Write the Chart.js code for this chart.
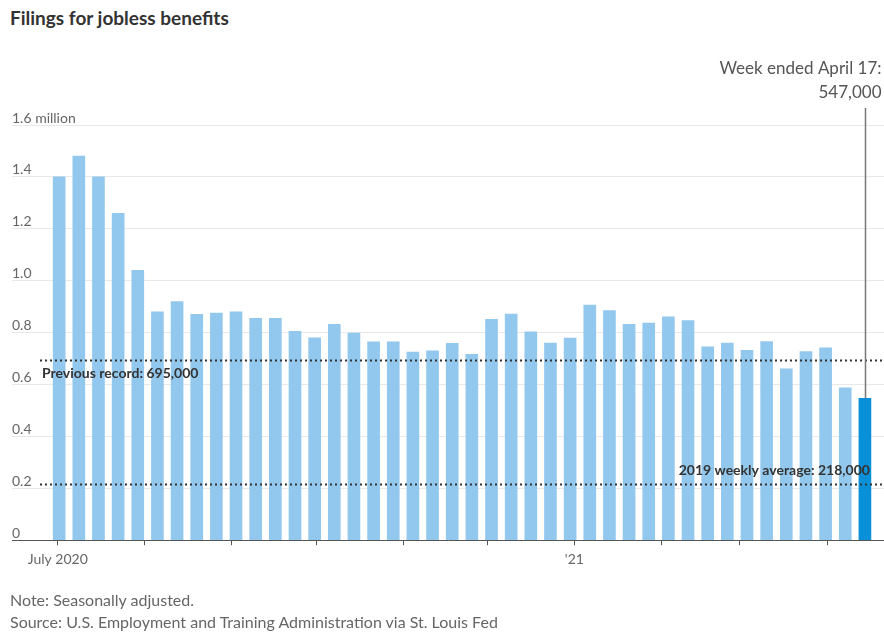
<!DOCTYPE html>
<html>
<head>
<meta charset="utf-8">
<script src="https://cdn.jsdelivr.net/npm/chart.js@4.4.1/dist/chart.umd.min.js"></script>
<style>
  html, body { margin: 0; padding: 0; background: #fff; }
  #wrap { position: relative; width: 884px; height: 632px; overflow: hidden; }
  #chart { position: absolute; left: 0; top: 0; }
  .title { position: absolute; left: 10px; top: 6px; font: bold 19px Lato, sans-serif; color: #333; }
  .note { position: absolute; left: 10px; font: 16px Lato, sans-serif; color: #666; }
</style>
</head>
<body>
<div id="wrap">
  <div class="title">Filings for jobless benefits</div>
  <canvas id="chart" width="884" height="632"></canvas>
  <div class="note" style="top:590px">Note: Seasonally adjusted.</div>
  <div class="note" style="top:612px">Source: U.S. Employment and Training Administration via St. Louis Fed</div>
</div>
<script>
// weeks (ending Saturday) and initial claims, thousands
const weekEnding = [
  '2020-07-04', '2020-07-11', '2020-07-18', '2020-07-25', '2020-08-01', '2020-08-08', '2020-08-15',
  '2020-08-22', '2020-08-29', '2020-09-05', '2020-09-12', '2020-09-19', '2020-09-26', '2020-10-03',
  '2020-10-10', '2020-10-17', '2020-10-24', '2020-10-31', '2020-11-07', '2020-11-14', '2020-11-21',
  '2020-11-28', '2020-12-05', '2020-12-12', '2020-12-19', '2020-12-26', '2021-01-02', '2021-01-09',
  '2021-01-16', '2021-01-23', '2021-01-30', '2021-02-06', '2021-02-13', '2021-02-20', '2021-02-27',
  '2021-03-06', '2021-03-13', '2021-03-20', '2021-03-27', '2021-04-03', '2021-04-10', '2021-04-17'
];
const claims = [
  1400, 1480, 1400, 1260, 1040, 880, 920,
  870, 875, 880, 855, 855, 805, 780,
  832, 798, 764, 764, 725, 730, 759,
  716, 851, 871, 803, 760, 779, 906,
  885, 832, 837, 861, 846, 745, 760,
  732, 765, 660, 727, 741, 587, 547
];

const monthStarts = ['2020-07-01', '2020-08-01', '2020-09-01', '2020-10-01', '2020-11-01',
  '2020-12-01', '2021-01-01', '2021-02-01', '2021-03-01', '2021-04-01'];
const monthLabels = ['July 2020', '', '', '', '', '', "'21", '', '', ''];

const yTicks = [0, 200, 400, 600, 800, 1000, 1200, 1400, 1600];
const yLabels = ['0', '0.2', '0.4', '0.6', '0.8', '1.0', '1.2', '1.4', '1.6 million'];

const refLines = [
  { value: 695, label: 'Previous record: 695,000', side: 'left' },
  { value: 218, label: '2019 weekly average: 218,000', side: 'right' }
];
const callout = ['Week ended April 17:', '547,000'];

const barColor = '#93c8ee';
const highlightColor = '#0a90d8';

// days since 1 July 2020
function dayNum(s) {
  const [y, m, d] = s.split('-').map(Number);
  return (Date.UTC(y, m - 1, d) - Date.UTC(2020, 6, 1)) / 86400000;
}

// bar sits at the middle of its Sunday-Saturday week
const points = weekEnding.map((w, i) => ({ x: dayNum(w) - 2.5, y: claims[i] }));
const colors = claims.map((v, i) => i === claims.length - 1 ? highlightColor : barColor);

const font = 'Lato, sans-serif';

const annotations = {
  id: 'annotations',
  afterDatasetsDraw(chart) {
    const { ctx, chartArea, scales: { x, y } } = chart;
    const last = points[points.length - 1];
    ctx.save();

    // dotted reference lines
    refLines.forEach(r => {
      const py = Math.round(y.getPixelForValue(r.value)) + 0.5;
      ctx.setLineDash([2, 3]);
      ctx.lineWidth = 2;
      ctx.strokeStyle = '#333';
      ctx.beginPath();
      ctx.moveTo(40, py);
      ctx.lineTo(chartArea.right, py);
      ctx.stroke();
      ctx.setLineDash([]);
      ctx.fillStyle = '#333';
      ctx.font = 'bold 14px ' + font;
      ctx.textBaseline = 'middle';
      if (r.side === 'left') {
        ctx.textAlign = 'left';
        ctx.fillText(r.label, 42, py + 13);
      } else {
        ctx.textAlign = 'right';
        ctx.fillText(r.label, x.getPixelForValue(last.x) + 5, py - 14);
      }
    });

    // callout for latest week
    const lx = Math.round(x.getPixelForValue(last.x)) + 0.5;
    const ly = y.getPixelForValue(last.y);
    ctx.strokeStyle = '#777';
    ctx.lineWidth = 1.5;
    ctx.beginPath();
    ctx.moveTo(lx, 108);
    ctx.lineTo(lx, ly);
    ctx.stroke();
    ctx.fillStyle = '#555';
    ctx.font = '17px ' + font;
    ctx.textAlign = 'right';
    ctx.textBaseline = 'middle';
    ctx.fillText(callout[0], lx + 16, 69);
    ctx.fillText(callout[1], lx + 16, 93);

    ctx.restore();
  }
};

new Chart(document.getElementById('chart'), {
  type: 'bar',
  data: {
    datasets: [{
      data: points,
      backgroundColor: colors,
      barThickness: 12,
      borderWidth: 0
    }]
  },
  options: {
    responsive: false,
    animation: false,
    layout: { padding: { left: 12, right: 0, top: 125, bottom: 58 } },
    plugins: {
      legend: { display: false },
      tooltip: { enabled: false }
    },
    scales: {
      x: {
        type: 'linear',
        offset: false,
        min: -16.3,
        max: 294.3,
        afterBuildTicks: axis => { axis.ticks = monthStarts.map(m => ({ value: dayNum(m) })); },
        ticks: {
          autoSkip: false,
          maxRotation: 0,
          padding: 6,
          color: '#666',
          font: { size: 14, family: font },
          callback: (v, i) => monthLabels[i]
        },
        grid: { offset: false, drawOnChartArea: false, tickLength: 5, tickColor: '#555' },
        border: { color: '#555', width: 1 }
      },
      y: {
        min: 0,
        max: 1600,
        afterBuildTicks: axis => { axis.ticks = yTicks.map(v => ({ value: v })); },
        ticks: {
          mirror: true,
          padding: 0,
          labelOffset: -7,
          color: '#666',
          font: { size: 14, family: font },
          callback: (v, i) => yLabels[i]
        },
        grid: { color: '#e8e8e8', drawTicks: false },
        border: { display: false }
      }
    }
  },
  plugins: [annotations]
});
</script>
</body>
</html>
